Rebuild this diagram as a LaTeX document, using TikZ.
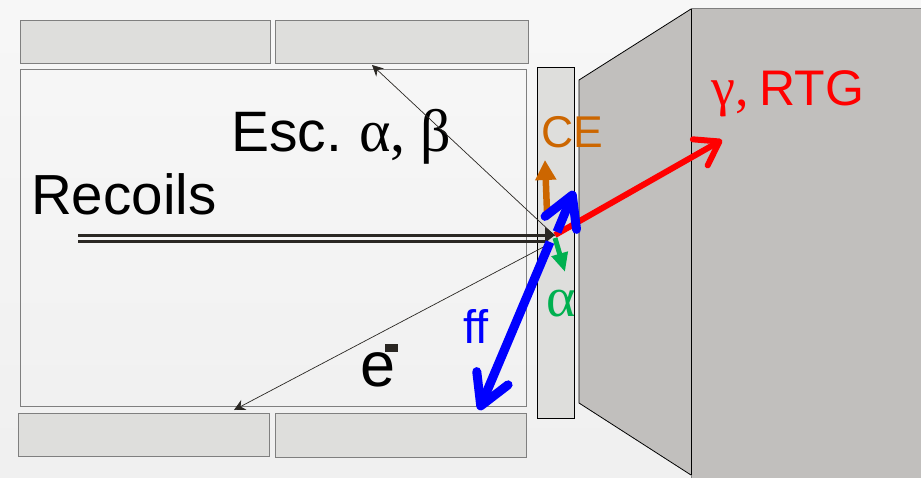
\documentclass[tikz,border=0pt]{standalone}
\usepackage{fontspec}
\setmainfont{Liberation Sans}
\newfontfamily\grk{Liberation Serif}
\usetikzlibrary{arrows.meta,calc}
\definecolor{panel}{HTML}{DEDEDC}
\definecolor{det}{HTML}{C1BFBD}
\definecolor{edgeg}{HTML}{7F7F7F}
\definecolor{orng}{HTML}{CC6600}
\definecolor{grn}{HTML}{00B050}
\definecolor{ink}{HTML}{2A2723}
\tikzset{
  panelbox/.style={draw=edgeg,line width=0.8pt,fill=panel,inner sep=0pt,outer sep=0pt,anchor=north west},
  lab/.style={inner sep=0pt,anchor=base west},
  thinarrow/.style={draw=ink,line width=0.7pt,-{Stealth[length=11pt,width=11pt]}},
  barb/.style={line width=#1,-{Straight Barb[length=30pt,width=34pt,round,line width=#1]}},
}
\newcommand{\fsz}[1]{\fontsize{#1pt}{#1pt}\selectfont}
\begin{document}
\begin{tikzpicture}[x=1pt,y=-1pt]
\useasboundingbox (0,0) rectangle (921,477);
\shade[top color=white!97!black,bottom color=white!94!black] (0,0) rectangle (921,477);
% panels
\node[panelbox,minimum width=250pt,minimum height=43pt] (pa) at (20.5,20) {};
\node[panelbox,minimum width=253pt,minimum height=43pt] (pb) at (275.5,20) {};
\node[panelbox,minimum width=251pt,minimum height=43pt] (pc) at (18,413) {};
\node[panelbox,minimum width=251pt,minimum height=44pt] (pd) at (275,413) {};
\node[panelbox,fill=none,minimum width=506pt,minimum height=337pt] (frame) at (20.5,69) {};
\node[panelbox,draw=black,minimum width=37pt,minimum height=351pt] (foil) at (537,67) {};
% detector
\fill[det] (579,80) -- (691,9) -- (691,475) -- (579,403) -- cycle;
\draw[black,line width=0.8pt] (691,9) -- (579,80) -- (579,403) -- (691,475);
\node[draw=edgeg,fill=det,line width=0.8pt,inner sep=0pt,outer sep=0pt,anchor=north west,minimum width=235pt,minimum height=470pt] (box) at (691,8) {};
\draw[black,line width=0.8pt] (691,9) -- (691,475);
% anchors
\coordinate (c) at (555,236);
\coordinate (cr) at (555,235);
\coordinate (gt) at (722,140);
\coordinate (ot) at (545,160);
\coordinate (gn) at (565,272);
\coordinate (up) at (574,191);
\coordinate (dn) at (479,410);
\coordinate (r0) at (78,235);
\coordinate (r1) at (78,241);
\coordinate (ea) at (372,65);
\coordinate (eb) at (234,410);
% labels
\node[lab,font=\fsz{56.5}] (recoils) at (31,214) {Recoils};
\node[lab,font=\fsz{57}] (esc) at (231,151) {Esc.\hspace{-4pt} {\grk\fsz{60}α, β}};
\node[lab,font=\fsz{44.5},text=orng] (ce) at (541,147) {CE};
\node[lab,font=\fsz{50},text=red] (rtg) at (711,105) {{\grk\fsz{54}γ,}\hspace{-3pt} RTG};
\node[lab,font=\fsz{47},text=blue] (ff) at (463,343) {ff};
\node[lab,font=\fsz{56},text=grn] (al) at (546,316) {\grk α};
\node[lab,font=\fsz{63}] (el) at (360,386) {e};
\fill[ink] (385,344) rectangle (398,352);
% connectors
\draw[thinarrow] (c) -- (ea);
\draw[thinarrow] (551,243) -- (eb);
\draw[red,line width=6pt,-{Straight Barb[length=22pt,width=30pt,round,line width=6pt]}] (cr) -- (gt);
\draw[draw=orng,line width=6.5pt,-{Triangle[length=20pt,width=20pt]}] (547,212) -- (ot);
\draw[draw=grn,line width=5pt,-{Triangle[length=19pt,width=16pt]}] (555,238) -- (gn);
\draw[ink,line width=3pt] (r0) -- (545,235);
\draw[ink,line width=3pt] (r1) -- (545,241);
\fill[ink] (555,235) -- (545,227) -- (545,243) -- cycle;
\draw[blue,barb=9pt] (557,232) -- (up);
\draw[blue,barb=9pt] (550,242) -- (dn);
\end{tikzpicture}
\end{document}
